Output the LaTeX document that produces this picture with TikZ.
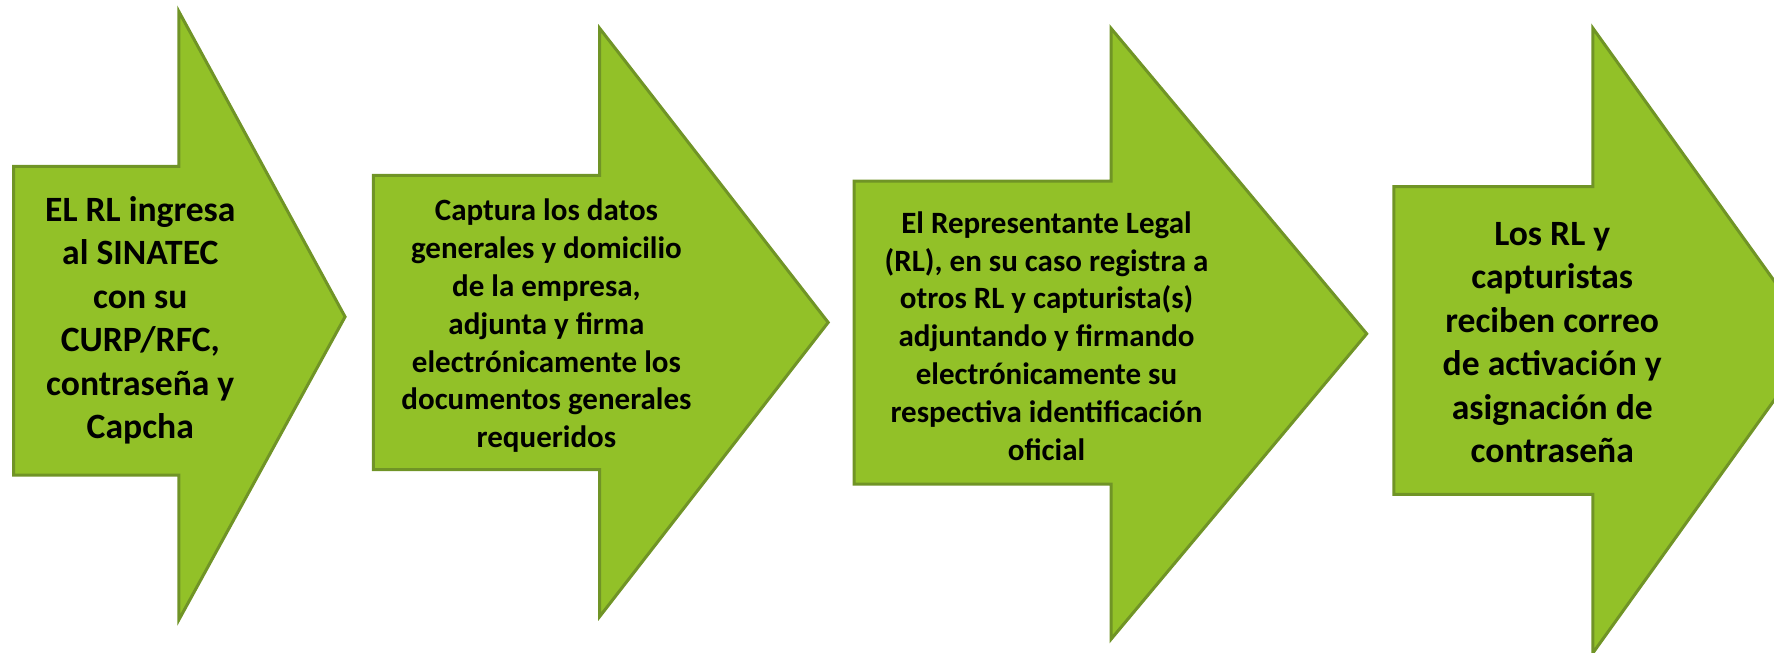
\documentclass[tikz,border=0pt]{standalone}
\usepackage{fontspec}
\setmainfont{Carlito}
\definecolor{verdeflecha}{RGB}{146,193,40}
\definecolor{bordeflecha}{RGB}{112,148,38}
\tikzset{
  flecha/.style={fill=verdeflecha, draw=bordeflecha, line width=3pt, line join=miter},
  textogrande/.style={align=center, font=\fontsize{35.6}{43.5}\selectfont\bfseries},
  textochico/.style={align=center, font=\fontsize{31}{37.8}\selectfont\bfseries}
}

\begin{document}
\begin{tikzpicture}[x=1.1314pt,y=-1.1314pt]
    \useasboundingbox (0,0) rectangle (1568,577);
    \clip (0,0) rectangle (1568,577);
    % las cuatro flechas
    \draw[flecha] (12,147) -- (158,147) -- (158,10) -- (305,280)
      -- (158,548) -- (158,420) -- (12,420) -- cycle;
    \draw[flecha] (330,155) -- (530,155) -- (530,25) -- (732,285)
      -- (530,545) -- (530,415) -- (330,415) -- cycle;
    \draw[flecha] (755,160) -- (982,160) -- (982,25) -- (1208,295)
      -- (982,565) -- (982,428) -- (755,428) -- cycle;
    \draw[flecha] (1232,165) -- (1408,165) -- (1408,25) -- (1606,301)
      -- (1408,577) -- (1408,437) -- (1232,437) -- cycle;
    % textos
    \node[textogrande] (paso1) at (124,283)
      {EL RL ingresa\\al SINATEC\\con su\\CURP/RFC,\\contraseña y\\Capcha};
    \node[textochico] (paso2) at (483,288)
      {Captura los datos\\generales y domicilio\\de la empresa,\\adjunta y firma\\electrónicamente los\\documentos generales\\requeridos};
    \node[textochico] (paso3) at (925,297)
      {El Representante Legal\\(RL), en su caso registra a\\otros RL y capturista(s)\\adjuntando y firmando\\electrónicamente su\\respectiva identificación\\oficial};
    \node[textogrande] (paso4) at (1372,303)
      {Los RL y\\capturistas\\reciben correo\\de activación y\\asignación de\\contraseña};
\end{tikzpicture}
\end{document}
